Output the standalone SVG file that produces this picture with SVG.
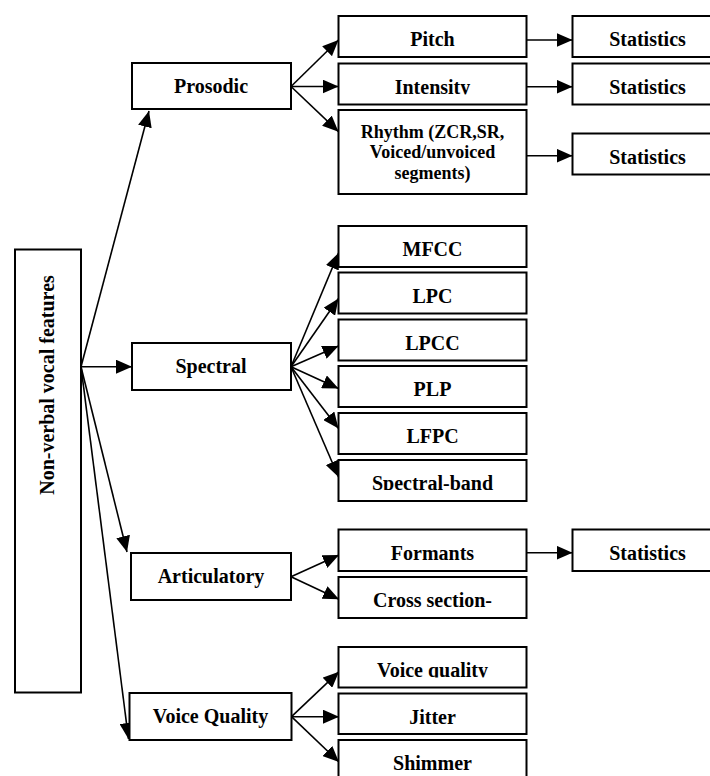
<svg xmlns="http://www.w3.org/2000/svg" width="710" height="776" viewBox="0 0 710 776">
<style>
.box{fill:#fff;stroke:#000;stroke-width:2}
.t{font-weight:bold;font-size:20px;text-anchor:middle;fill:#000}
.s{font-size:18px}
.c{stroke:#000;stroke-width:1.6;fill:none;marker-end:url(#ah)}
</style>
<defs>
<marker id="ah" markerUnits="userSpaceOnUse" markerWidth="16" markerHeight="14" refX="16" refY="7" orient="auto">
<path d="M0,0 L16,7 L0,14 z" fill="#000"/>
</marker>
<clipPath id="clipInt"><rect x="338" y="60" width="190" height="34.5"/></clipPath>
<clipPath id="clipSB"><rect x="338" y="458" width="190" height="32"/></clipPath>
<clipPath id="clipVQ"><rect x="338" y="645" width="190" height="32.5"/></clipPath>
</defs>
<rect width="710" height="776" fill="#fff"/>
<g id="connectors">
<line class="c" x1="81" y1="366.7" x2="149" y2="111"/>
<line class="c" x1="81" y1="366.7" x2="132" y2="366.7"/>
<line class="c" x1="81" y1="366.7" x2="127" y2="552"/>
<line class="c" x1="81" y1="366.7" x2="128.5" y2="739"/>
<line class="c" x1="291" y1="86.5" x2="338.5" y2="40"/>
<line class="c" x1="291" y1="86.5" x2="338.5" y2="86.5"/>
<line class="c" x1="291" y1="86.5" x2="338.5" y2="131.7"/>
<line class="c" x1="526.5" y1="40" x2="572.5" y2="40"/>
<line class="c" x1="526.5" y1="86.7" x2="572.5" y2="86.7"/>
<line class="c" x1="526.5" y1="155.7" x2="572.5" y2="155.7"/>
<line class="c" x1="291" y1="366.7" x2="338.5" y2="253"/>
<line class="c" x1="291" y1="366.7" x2="338.5" y2="298.5"/>
<line class="c" x1="291" y1="366.7" x2="338.5" y2="346"/>
<line class="c" x1="291" y1="366.7" x2="338.5" y2="388.5"/>
<line class="c" x1="291" y1="366.7" x2="338.5" y2="428.5"/>
<line class="c" x1="291" y1="366.7" x2="338.5" y2="477"/>
<line class="c" x1="291" y1="576.7" x2="339" y2="555"/>
<line class="c" x1="291" y1="576.7" x2="339" y2="599.3"/>
<line class="c" x1="526.5" y1="552.7" x2="572.5" y2="552.7"/>
<line class="c" x1="291.5" y1="716.7" x2="339" y2="671.7"/>
<line class="c" x1="291.5" y1="716.7" x2="339" y2="716.7"/>
<line class="c" x1="291.5" y1="716.7" x2="339" y2="762"/>
</g>
<g font-family="'Liberation Serif', 'Times New Roman', serif">
<g id="nonverbal"><rect class="box" x="15" y="249.5" width="66" height="443"/><text class="t" transform="translate(54,385) rotate(-90)">Non-verbal vocal features</text></g>
<g id="prosodic"><rect class="box" x="132" y="63" width="159" height="46"/><text class="t" x="211" y="93">Prosodic</text></g>
<g id="spectral"><rect class="box" x="132" y="343" width="159" height="47"/><text class="t" x="211" y="373">Spectral</text></g>
<g id="articulatory"><rect class="box" x="131" y="553" width="160" height="47"/><text class="t" x="211" y="583">Articulatory</text></g>
<g id="voicequality"><rect class="box" x="129.5" y="693" width="162" height="47"/><text class="t" x="210.5" y="723">Voice Quality</text></g>
<g id="pitch"><rect class="box" x="338.5" y="16" width="188" height="41"/><text class="t" x="432.5" y="46">Pitch</text></g>
<g id="intensity"><rect class="box" x="338.5" y="63.5" width="188" height="41"/><text class="t" x="432.5" y="93.5" clip-path="url(#clipInt)">Intensity</text></g>
<g id="rhythm"><rect class="box" x="338.5" y="110" width="188" height="84"/><text class="t s" x="432.5" y="137.5">Rhythm (ZCR,SR,</text><text class="t s" x="432.5" y="158.3">Voiced/unvoiced</text><text class="t s" x="432.5" y="178.5">segments)</text></g>
<g id="stats1"><rect class="box" x="572.5" y="16" width="140" height="41"/><text class="t" x="647.5" y="46">Statistics</text></g>
<g id="stats2"><rect class="box" x="572.5" y="63.5" width="140" height="41"/><text class="t" x="647.5" y="93.5">Statistics</text></g>
<g id="stats3"><rect class="box" x="572.5" y="133.5" width="140" height="41"/><text class="t" x="647.5" y="163.5">Statistics</text></g>
<g id="mfcc"><rect class="box" x="338.5" y="226" width="188" height="41"/><text class="t" x="432.5" y="255.5">MFCC</text></g>
<g id="lpc"><rect class="box" x="338.5" y="272.5" width="188" height="41"/><text class="t" x="432.5" y="302.5">LPC</text></g>
<g id="lpcc"><rect class="box" x="338.5" y="319.5" width="188" height="41"/><text class="t" x="432.5" y="349.5">LPCC</text></g>
<g id="plp"><rect class="box" x="338.5" y="366" width="188" height="41"/><text class="t" x="432.5" y="396">PLP</text></g>
<g id="lfpc"><rect class="box" x="338.5" y="413" width="188" height="41"/><text class="t" x="432.5" y="443">LFPC</text></g>
<g id="spectralband"><rect class="box" x="338.5" y="460" width="188" height="41"/><text class="t" x="432.5" y="490" clip-path="url(#clipSB)">Spectral-band</text></g>
<g id="formants"><rect class="box" x="338.5" y="529.5" width="188" height="41.5"/><text class="t" x="432.5" y="560">Formants</text></g>
<g id="crosssection"><rect class="box" x="338.5" y="577" width="188" height="41"/><text class="t" x="432.5" y="606.5">Cross section-</text></g>
<g id="stats4"><rect class="box" x="572.5" y="529.5" width="140" height="41.5"/><text class="t" x="647.5" y="560">Statistics</text></g>
<g id="voicequality2"><rect class="box" x="338.5" y="647" width="188" height="40.5"/><text class="t" x="432.5" y="677" clip-path="url(#clipVQ)">Voice quality</text></g>
<g id="jitter"><rect class="box" x="338.5" y="693.5" width="188" height="40.5"/><text class="t" x="432.5" y="723.5">Jitter</text></g>
<g id="shimmer"><rect class="box" x="338.5" y="740" width="188" height="40"/><text class="t" x="432.5" y="770">Shimmer</text></g>
</g>
</svg>
